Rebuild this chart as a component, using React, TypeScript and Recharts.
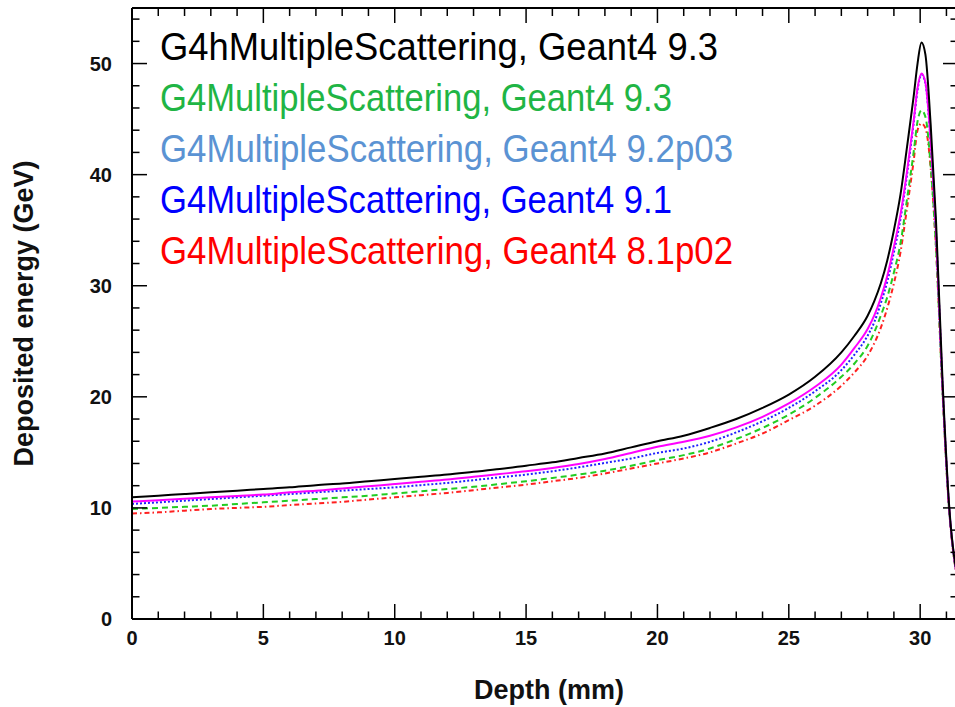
import React from 'react';
import { LineChart, Line, XAxis, YAxis } from 'recharts';

const depth = [0,1,2,3,4,5,6,7,8,9,10,11,12,13,14,15,16,17,18,19,20,21,22,23,24,25,26,27,27.5,28,28.25,28.5,28.75,29,29.25,29.5,29.75,29.9,30.05,30.2,30.4,30.6,30.85,31.1,31.33,31.44];

const g4h93 = [10.95,11.1,11.25,11.4,11.55,11.7,11.85,12.05,12.2,12.4,12.6,12.8,13.0,13.25,13.5,13.8,14.1,14.5,14.9,15.45,16.0,16.5,17.2,18.0,19.0,20.2,21.8,24.0,25.5,27.3,28.6,30.2,32.3,35.0,38.2,42.5,47.0,50.0,51.9,50.8,44.5,36.0,21.5,10.3,5.0,3.6];
const g4ms93 = [9.9,10.0,10.1,10.2,10.35,10.5,10.65,10.8,10.95,11.1,11.3,11.5,11.7,11.9,12.15,12.4,12.7,13.0,13.35,13.8,14.3,14.75,15.35,16.2,17.2,18.4,19.9,21.8,23.0,24.6,25.8,27.3,29.0,31.2,33.8,37.8,42.0,44.8,45.8,45.2,40.8,33.5,20.5,9.9,4.8,3.4];
const g4ms92p03 = [10.57,10.7,10.82,10.95,11.08,11.2,11.4,11.55,11.75,11.95,12.15,12.35,12.55,12.8,13.05,13.3,13.6,13.95,14.4,14.95,15.5,15.95,16.5,17.25,18.2,19.4,20.9,22.9,24.4,26.1,27.3,28.9,30.9,33.5,36.4,40.3,44.8,47.8,49.1,48.3,43.0,35.0,21.0,10.1,4.9,3.5];
const g4ms91 = [10.36,10.5,10.65,10.8,10.95,11.1,11.25,11.4,11.55,11.7,11.85,12.05,12.25,12.5,12.75,13.0,13.3,13.65,14.05,14.45,14.95,15.35,15.95,16.8,17.8,19.0,20.5,22.4,23.8,25.5,26.7,28.4,30.4,33.0,36.0,40.0,44.6,47.6,49.0,48.2,42.9,34.9,21.0,10.1,4.9,3.5];
const g4ms81p02 = [9.5,9.6,9.75,9.9,10.0,10.1,10.25,10.4,10.55,10.75,10.95,11.15,11.35,11.6,11.85,12.1,12.4,12.7,13.1,13.55,14.0,14.45,15.0,15.8,16.7,17.9,19.2,21.0,22.2,23.7,24.8,26.2,28.0,30.2,33.0,37.0,41.2,44.0,44.6,44.2,40.6,33.5,20.5,9.9,4.8,3.4];

const xTicks = [0,1,2,3,4,5,6,7,8,9,10,11,12,13,14,15,16,17,18,19,20,21,22,23,24,25,26,27,28,29,30,31];
const yTicks = [0,2,4,6,8,10,12,14,16,18,20,22,24,26,28,30,32,34,36,38,40,42,44,46,48,50,52,54];

const legendLabels = [
  'G4hMultipleScattering, Geant4 9.3',
  'G4MultipleScattering, Geant4 9.3',
  'G4MultipleScattering, Geant4 9.2p03',
  'G4MultipleScattering, Geant4 9.1',
  'G4MultipleScattering, Geant4 8.1p02',
];
const legendColors = ['#000000', '#1fb545', '#5b93d3', '#0000ff', '#ff0000'];
const legendWidths = [558, 512, 573, 512, 573];

const X_MAX = 31.44;
const Y_MAX = 55;

const data = depth.map((d, i) => ({
  depth: d,
  g4h93: g4h93[i],
  g4ms93: g4ms93[i],
  g4ms92p03: g4ms92p03[i],
  g4ms91: g4ms91[i],
  g4ms81p02: g4ms81p02[i],
}));

const FONT = '"Liberation Sans", Arial, sans-serif';
const tickFont = { fontFamily: FONT, fontWeight: 700, fontSize: 20, fill: '#111' };
const titleStyle = { fontFamily: FONT, fontWeight: 700, fontSize: 27, fill: '#111' };

const BottomTick = (props: any) => {
  const { x, y, payload } = props;
  const major = payload.value % 5 === 0;
  return (
    <g>
      <line x1={x} x2={x} y1={y} y2={y - (major ? 15 : 7.5)} stroke="#000" strokeWidth={1.5} />
      {major && (
        <text x={x} y={y + 26} textAnchor="middle" {...tickFont}>{payload.value}</text>
      )}
    </g>
  );
};

const TopTick = (props: any) => {
  const { x, y, payload } = props;
  const major = payload.value % 5 === 0;
  return <line x1={x} x2={x} y1={y} y2={y + (major ? 15 : 8)} stroke="#000" strokeWidth={1.5} />;
};

const LeftTick = (props: any) => {
  const { x, y, payload } = props;
  const major = payload.value % 10 === 0;
  return (
    <g>
      <line x1={x} x2={x + (major ? 15 : 7.5)} y1={y} y2={y} stroke="#000" strokeWidth={1.5} />
      {major && (
        <text x={x - 20} y={y + 7} textAnchor="end" {...tickFont}>{payload.value}</text>
      )}
    </g>
  );
};

const RightTick = (props: any) => {
  const { x, y, payload } = props;
  const major = payload.value % 10 === 0;
  return <line x1={x} x2={x - (major ? 15 : 7.5)} y1={y} y2={y} stroke="#000" strokeWidth={1.5} />;
};

export default function App() {
  return (
    <div style={{ position: 'absolute', left: 0, top: 0, width: 955, height: 707, overflow: 'hidden', background: '#fff' }}>
      <LineChart width={960} height={707} data={data} margin={{ top: 0, right: 0, bottom: 0, left: 0 }}>
        <XAxis
          dataKey="depth"
          type="number"
          domain={[0, X_MAX]}
          ticks={xTicks}
          allowDataOverflow
          height={88}
          tickSize={0}
          tickMargin={0}
          tickLine={false}
          interval={0}
          axisLine={{ stroke: '#000', strokeWidth: 2 }}
          tick={<BottomTick />}
          label={{ value: 'Depth (mm)', position: 'insideBottom', offset: 8, dx: 4, style: titleStyle }}
        />
        <XAxis
          xAxisId="top"
          orientation="top"
          dataKey="depth"
          type="number"
          domain={[0, X_MAX]}
          ticks={xTicks}
          allowDataOverflow
          height={8}
          tickSize={0}
          tickMargin={0}
          tickLine={false}
          interval={0}
          axisLine={{ stroke: '#000', strokeWidth: 2 }}
          tick={<TopTick />}
        />
        <YAxis
          type="number"
          domain={[0, Y_MAX]}
          ticks={yTicks}
          allowDataOverflow
          width={132}
          tickSize={0}
          tickMargin={0}
          tickLine={false}
          interval={0}
          axisLine={{ stroke: '#000', strokeWidth: 2 }}
          tick={<LeftTick />}
          label={{ value: 'Deposited energy (GeV)', angle: -90, position: 'insideLeft', offset: 23, style: { ...titleStyle, textAnchor: 'middle' } }}
        />
        <YAxis
          yAxisId="right"
          orientation="right"
          type="number"
          domain={[0, Y_MAX]}
          ticks={yTicks}
          allowDataOverflow
          width={2}
          tickSize={0}
          tickMargin={0}
          tickLine={false}
          interval={0}
          axisLine={false}
          tick={<RightTick />}
        />
        <Line dataKey="g4ms81p02" type="monotone" stroke="#ff2020" strokeWidth={2} strokeDasharray="5 3 1.5 3" dot={false} isAnimationActive={false} />
        <Line dataKey="g4ms93" type="monotone" stroke="#22cc22" strokeWidth={2} strokeDasharray="6 4" dot={false} isAnimationActive={false} />
        <Line dataKey="g4ms91" type="monotone" stroke="#2020ff" strokeWidth={2} strokeDasharray="2 2" dot={false} isAnimationActive={false} />
        <Line dataKey="g4ms92p03" type="monotone" stroke="#ff00ff" strokeWidth={2} dot={false} isAnimationActive={false} />
        <Line dataKey="g4h93" type="monotone" stroke="#000000" strokeWidth={2} dot={false} isAnimationActive={false} />
        {legendLabels.map((t, i) => (
          <text
            key={t}
            x={160}
            y={60 + i * 51}
            fill={legendColors[i]}
            textLength={legendWidths[i]}
            lengthAdjust="spacingAndGlyphs"
            style={{ fontFamily: FONT, fontSize: 39 }}
          >
            {t}
          </text>
        ))}
      </LineChart>
    </div>
  );
}
